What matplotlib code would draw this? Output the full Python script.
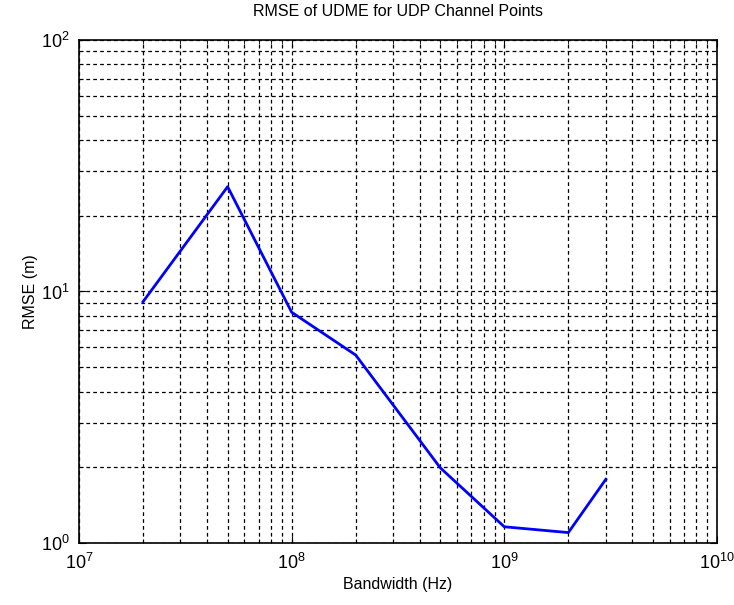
import matplotlib
matplotlib.use('Agg')
import matplotlib.pyplot as plt

plt.rcParams['font.family'] = ['Liberation Sans', 'DejaVu Sans']
plt.rcParams['mathtext.fontset'] = 'custom'
plt.rcParams['mathtext.rm'] = 'Liberation Sans'
plt.rcParams['mathtext.it'] = 'Liberation Sans'

# datos
bandwidth = [2e7, 5e7, 1e8, 2e8, 5e8, 1e9, 2e9, 3e9]
rmse = [9.1, 26.1, 8.27, 5.59, 1.99, 1.16, 1.10, 1.79]

fig = plt.figure(figsize=(7.34, 6.05), dpi=100)
ax = fig.add_axes([0.1076, 0.1025, 0.8692, 0.8314])

ax.loglog(bandwidth, rmse, color='#0000ff', linewidth=2)

ax.set_xlim(1e7, 1e10)
ax.set_ylim(1, 100)

ax.grid(True, which='both', color='black', linestyle=(0, (3, 2.5)), linewidth=0.9)
ax.tick_params(which='both', direction='in', top=True, right=True, labelsize=13)
ax.tick_params(which='major', length=5, pad=7)
ax.tick_params(which='minor', length=3)
for s in ax.spines.values():
    s.set_linewidth(1.2)

ax.set_title('RMSE of UDME for UDP Channel Points', fontsize=11.5, pad=17)
ax.set_xlabel('Bandwidth (Hz)', fontsize=11.5, labelpad=3)
ax.set_ylabel('RMSE (m)', fontsize=11.5, labelpad=2)

fig.savefig('out.png', dpi=100)
